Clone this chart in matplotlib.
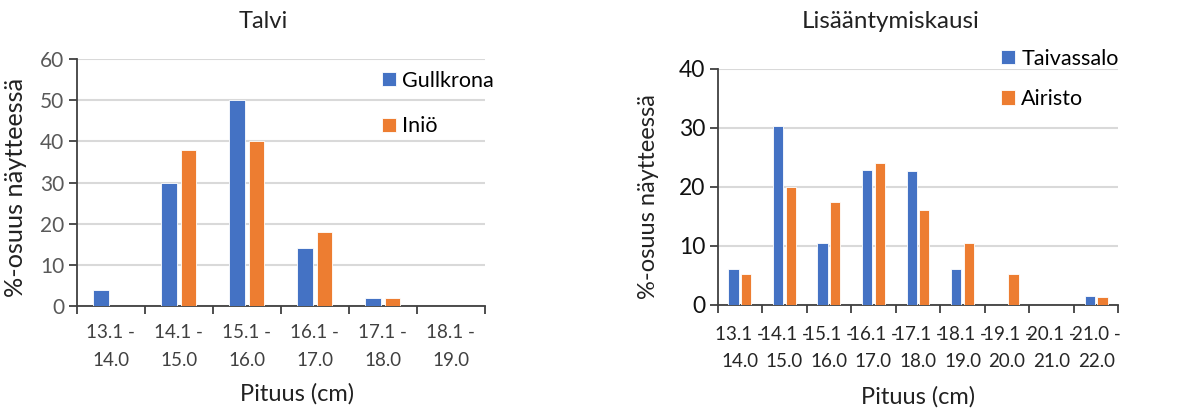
#!/usr/bin/env python3
# -*- coding: utf-8 -*-
"""
Pituusjakaumat: talvi ja lisääntymiskausi
"""

import numpy as np
import matplotlib
matplotlib.use('Agg')
import matplotlib.pyplot as plt
from matplotlib.ticker import FixedLocator

# ============================================
# Data
# ============================================
talvi_labels = ['13.1 -\n14.0', '14.1 -\n15.0', '15.1 -\n16.0',
                '16.1 -\n17.0', '17.1 -\n18.0', '18.1 -\n19.0']
gullkrona = [4, 30, 50, 14, 2, 0]
inio = [0, 38, 40, 18, 2, 0]

lisa_labels = ['13.1 -\n14.0', '14.1 -\n15.0', '15.1 -\n16.0',
               '16.1 -\n17.0', '17.1 -\n18.0', '18.1 -\n19.0',
               '19.1 -\n20.0', '20.1 -\n21.0', '21.0 -\n22.0']
taivassalo = [6.0, 30.3, 10.5, 22.8, 22.6, 6.0, 0, 0, 1.5]
airisto = [5.2, 20.0, 17.4, 24.1, 16.0, 10.5, 5.3, 0, 1.3]

BLUE = '#4472C4'
ORANGE = '#ED7D31'
GRID = '#D9D9D9'

plt.rcParams['font.family'] = ['Lato', 'DejaVu Sans']

fig = plt.figure(figsize=(12, 4.12), dpi=100)


def draw_panel(ax, labels, s1, s2, n1, n2, ymax, ystep, ytick_color, ytick_size,
               xtick_color, ylabel_size, xpad):
    n = len(labels)
    x = np.arange(n)
    w = 0.23
    off = 0.143
    ax.bar(x - off, s1, w, color=BLUE, edgecolor='white', linewidth=0.6, label=n1, zorder=3)
    ax.bar(x + off, s2, w, color=ORANGE, edgecolor='white', linewidth=0.6, label=n2, zorder=3)

    ax.set_xlim(-0.5, n - 0.5)
    ax.set_ylim(0, ymax)
    ax.set_yticks(np.arange(0, ymax + 0.1, ystep))
    ax.yaxis.grid(True, color=GRID, linewidth=1.5, zorder=0)
    ax.set_axisbelow(True)

    # tick labels in the middle, tick marks at the boundaries
    ax.set_xticks(x)
    ax.set_xticklabels(labels, color=xtick_color, fontsize=13.5, linespacing=1.75)
    ax.tick_params(axis='x', which='major', length=0, pad=xpad)
    ax.xaxis.set_minor_locator(FixedLocator(np.arange(-0.5, n, 1.0)))
    ax.tick_params(axis='x', which='minor', length=6, width=1.3, color='#404040')
    ax.tick_params(axis='y', length=6, width=1.3, color='#404040',
                   labelsize=ytick_size, labelcolor=ytick_color, pad=3)

    for side in ['top', 'right']:
        ax.spines[side].set_visible(False)
    for side in ['left', 'bottom']:
        ax.spines[side].set_color('#404040')
        ax.spines[side].set_linewidth(1.3)

    ax.set_ylabel('%-osuus näytteessä', fontsize=ylabel_size, color='#222222')
    ax.set_xlabel('Pituus (cm)', fontsize=17, color='#222222')


# Talvi
ax1 = fig.add_axes([0.064, 0.257, 0.340, 0.600])
draw_panel(ax1, talvi_labels, gullkrona, inio, 'Gullkrona', 'Iniö',
           60, 10, '#595959', 15, '#404040', 18.2, 13)
ax1.xaxis.set_label_coords(0.54, -0.31)
ax1.yaxis.set_label_coords(-0.123, 0.48)
fig.text(0.219, 0.947, 'Talvi', fontsize=17, ha='center', va='center', color='#222222')
ax1.legend(loc='upper left', bbox_to_anchor=(0.318, 0.828), bbox_transform=fig.transFigure,
           frameon=False, fontsize=15.5, handlelength=0.65, handleheight=0.65,
           handletextpad=0.3, labelspacing=1.18, borderpad=0, borderaxespad=0)

# Lisääntymiskausi
ax2 = fig.add_axes([0.598, 0.260, 0.334, 0.573])
draw_panel(ax2, lisa_labels, taivassalo, airisto, 'Taivassalo', 'Airisto',
           40, 10, '#111111', 16.5, '#262626', 17.0, 15)
ax2.xaxis.set_label_coords(0.5, -0.345)
ax2.yaxis.set_label_coords(-0.145, 0.46)
fig.text(0.742, 0.947, 'Lisääntymiskausi', fontsize=17.4, ha='center', va='center', color='#222222')
ax2.legend(loc='upper left', bbox_to_anchor=(0.834, 0.882), bbox_transform=fig.transFigure,
           frameon=False, fontsize=15.5, handlelength=0.65, handleheight=0.65,
           handletextpad=0.3, labelspacing=0.95, borderpad=0, borderaxespad=0)

plt.savefig('out.png', dpi=100)
